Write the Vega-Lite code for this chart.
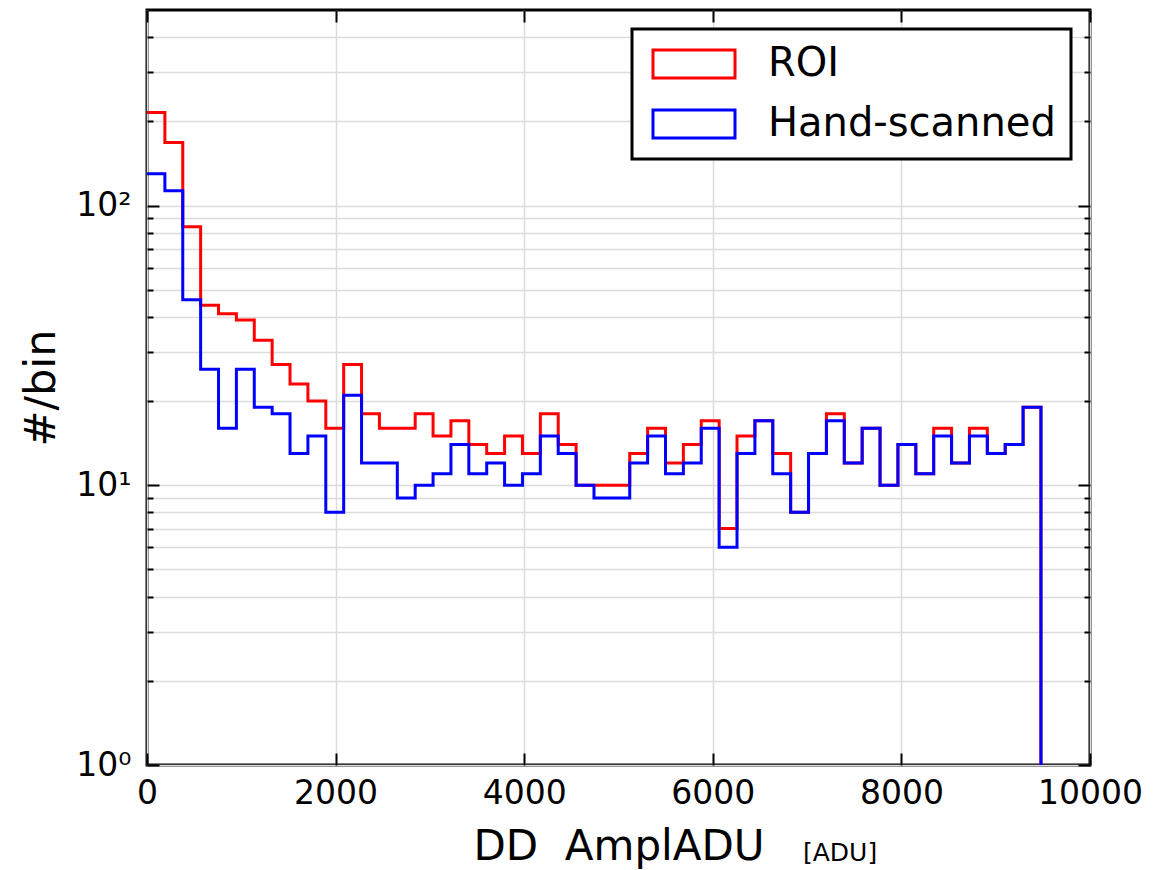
{
  "$schema": "https://vega.github.io/schema/vega-lite/v6.json",
  "width": 943,
  "height": 755,
  "autosize": "none",
  "padding": {"left": 147, "top": 10, "right": 69, "bottom": 105},
  "background": "white",
  "config": {
    "font": "DejaVu Sans",
    "view": {"stroke": "black", "strokeWidth": 3},
    "axis": {"domain": false, "tickColor": "black", "tickWidth": 2, "labelColor": "black", "titleColor": "black", "titleFontWeight": "normal", "labelFont": "DejaVu Sans", "titleFont": "DejaVu Sans", "gridColor": "#dcdcdc", "gridWidth": 1.5}
  },
  "title": {"text": "[ADU]", "orient": "bottom", "anchor": "start", "frame": "group", "fontSize": 25, "fontWeight": "normal", "font": "DejaVu Sans", "color": "black", "dx": 656, "dy": -30},
  "data": {"values": [
    {"i": 0, "x": 0, "ROI": 215, "Hand-scanned": 130},
    {"i": 1, "x": 189.6, "ROI": 168, "Hand-scanned": 113},
    {"i": 2, "x": 379.2, "ROI": 84, "Hand-scanned": 46},
    {"i": 3, "x": 568.8, "ROI": 44, "Hand-scanned": 26},
    {"i": 4, "x": 758.4, "ROI": 41, "Hand-scanned": 16},
    {"i": 5, "x": 948, "ROI": 39, "Hand-scanned": 26},
    {"i": 6, "x": 1137.6, "ROI": 33, "Hand-scanned": 19},
    {"i": 7, "x": 1327.2, "ROI": 27, "Hand-scanned": 18},
    {"i": 8, "x": 1516.8, "ROI": 23, "Hand-scanned": 13},
    {"i": 9, "x": 1706.4, "ROI": 20, "Hand-scanned": 15},
    {"i": 10, "x": 1896, "ROI": 16, "Hand-scanned": 8},
    {"i": 11, "x": 2085.6, "ROI": 27, "Hand-scanned": 21},
    {"i": 12, "x": 2275.2, "ROI": 18, "Hand-scanned": 12},
    {"i": 13, "x": 2464.8, "ROI": 16, "Hand-scanned": 12},
    {"i": 14, "x": 2654.4, "ROI": 16, "Hand-scanned": 9},
    {"i": 15, "x": 2844, "ROI": 18, "Hand-scanned": 10},
    {"i": 16, "x": 3033.6, "ROI": 15, "Hand-scanned": 11},
    {"i": 17, "x": 3223.2, "ROI": 17, "Hand-scanned": 14},
    {"i": 18, "x": 3412.8, "ROI": 14, "Hand-scanned": 11},
    {"i": 19, "x": 3602.4, "ROI": 13, "Hand-scanned": 12},
    {"i": 20, "x": 3792, "ROI": 15, "Hand-scanned": 10},
    {"i": 21, "x": 3981.6, "ROI": 13, "Hand-scanned": 11},
    {"i": 22, "x": 4171.2, "ROI": 18, "Hand-scanned": 15},
    {"i": 23, "x": 4360.8, "ROI": 14, "Hand-scanned": 13},
    {"i": 24, "x": 4550.4, "ROI": 10, "Hand-scanned": 10},
    {"i": 25, "x": 4740, "ROI": 10, "Hand-scanned": 9},
    {"i": 26, "x": 4929.6, "ROI": 10, "Hand-scanned": 9},
    {"i": 27, "x": 5119.2, "ROI": 13, "Hand-scanned": 12},
    {"i": 28, "x": 5308.8, "ROI": 16, "Hand-scanned": 15},
    {"i": 29, "x": 5498.4, "ROI": 12, "Hand-scanned": 11},
    {"i": 30, "x": 5688, "ROI": 14, "Hand-scanned": 12},
    {"i": 31, "x": 5877.6, "ROI": 17, "Hand-scanned": 16},
    {"i": 32, "x": 6067.2, "ROI": 7, "Hand-scanned": 6},
    {"i": 33, "x": 6256.8, "ROI": 15, "Hand-scanned": 13},
    {"i": 34, "x": 6446.4, "ROI": 17, "Hand-scanned": 17},
    {"i": 35, "x": 6636, "ROI": 13, "Hand-scanned": 11},
    {"i": 36, "x": 6825.6, "ROI": 8, "Hand-scanned": 8},
    {"i": 37, "x": 7015.2, "ROI": 13, "Hand-scanned": 13},
    {"i": 38, "x": 7204.8, "ROI": 18, "Hand-scanned": 17},
    {"i": 39, "x": 7394.4, "ROI": 12, "Hand-scanned": 12},
    {"i": 40, "x": 7584, "ROI": 16, "Hand-scanned": 16},
    {"i": 41, "x": 7773.6, "ROI": 10, "Hand-scanned": 10},
    {"i": 42, "x": 7963.2, "ROI": 14, "Hand-scanned": 14},
    {"i": 43, "x": 8152.8, "ROI": 11, "Hand-scanned": 11},
    {"i": 44, "x": 8342.4, "ROI": 16, "Hand-scanned": 15},
    {"i": 45, "x": 8532, "ROI": 12, "Hand-scanned": 12},
    {"i": 46, "x": 8721.6, "ROI": 16, "Hand-scanned": 15},
    {"i": 47, "x": 8911.2, "ROI": 13, "Hand-scanned": 13},
    {"i": 48, "x": 9100.8, "ROI": 14, "Hand-scanned": 14},
    {"i": 49, "x": 9290.4, "ROI": 19, "Hand-scanned": 19},
    {"i": 50, "x": 9480, "ROI": 19, "Hand-scanned": 19},
    {"i": 51, "x": 9480, "ROI": 1, "Hand-scanned": 1}
  ]},
  "transform": [{"fold": ["ROI", "Hand-scanned"], "as": ["series", "count"]}],
  "layer": [
    {
      "transform": [{"filter": "datum.series == 'ROI'"}],
      "mark": {"type": "line", "interpolate": "step-after", "strokeWidth": 3},
      "encoding": {
        "x": {"field": "x", "type": "quantitative", "scale": {"domain": [0, 10000], "nice": false, "zero": false},
          "axis": {"orient": "bottom", "values": [0, 2000, 4000, 6000, 8000, 10000], "format": "d", "labelFontSize": 33, "labelFlush": false, "labelOverlap": false, "labelPadding": 24, "tickSize": -12, "grid": true, "title": "DD\u00a0\u00a0AmplADU", "titleFontSize": 42, "titlePadding": 16}},
        "y": {"field": "count", "type": "quantitative", "scale": {"type": "log", "domain": [1, 500], "nice": false},
          "axis": {"orient": "left", "values": [1,2,3,4,5,6,7,8,9,10,20,30,40,50,60,70,80,90,100,200,300,400],
            "labelExpr": "datum.value == 1 ? '10⁰' : datum.value == 10 ? '10¹' : datum.value == 100 ? '10²' : ''",
            "labelFontSize": 33, "labelFlush": false, "labelOverlap": false, "labelPadding": 28,
            "tickSize": {"condition": {"test": "datum.value == 1 || datum.value == 10 || datum.value == 100", "value": -12}, "value": -6},
            "grid": true, "title": "#/bin", "titleFontSize": 43, "titlePadding": 12}},
        "color": {"field": "series", "type": "nominal", "scale": {"domain": ["ROI", "Hand-scanned"], "range": ["#ff0000", "#0000ff"]},
          "legend": {"title": null, "orient": "top-right", "offset": 19, "padding": 15, "fillColor": "white", "strokeColor": "black",
            "symbolType": "M-2.929,-1H2.929V1H-2.929Z", "symbolSize": 784, "symbolOffset": 27, "symbolStrokeWidth": 3, "symbolFillColor": "transparent",
            "labelFontSize": 40, "labelFont": "DejaVu Sans", "labelColor": "black", "labelOffset": 54, "labelLimit": 500, "rowPadding": 20,
            "encode": {"legend": {"update": {"strokeWidth": {"value": 3}}}, "symbols": {"update": {"fill": {"value": "transparent"}, "strokeWidth": {"value": 3}}}}}},
        "order": {"field": "i", "type": "quantitative"}
      }
    },
    {
      "transform": [{"filter": "datum.series == 'Hand-scanned'"}],
      "mark": {"type": "line", "interpolate": "step-after", "strokeWidth": 3},
      "encoding": {
        "x": {"field": "x", "type": "quantitative", "scale": {"domain": [0, 10000], "nice": false, "zero": false},
          "axis": {"orient": "top", "values": [0, 2000, 4000, 6000, 8000, 10000], "labels": false, "tickSize": -12, "grid": false, "title": null}},
        "y": {"field": "count", "type": "quantitative", "scale": {"type": "log", "domain": [1, 500], "nice": false},
          "axis": {"orient": "right", "values": [1,2,3,4,5,6,7,8,9,10,20,30,40,50,60,70,80,90,100,200,300,400], "labels": false,
            "tickSize": {"condition": {"test": "datum.value == 1 || datum.value == 10 || datum.value == 100", "value": -12}, "value": -6},
            "grid": false, "title": null}},
        "color": {"field": "series", "type": "nominal", "scale": {"domain": ["ROI", "Hand-scanned"], "range": ["#ff0000", "#0000ff"]}},
        "order": {"field": "i", "type": "quantitative"}
      }
    }
  ],
  "resolve": {"axis": {"x": "independent", "y": "independent"}}
}
